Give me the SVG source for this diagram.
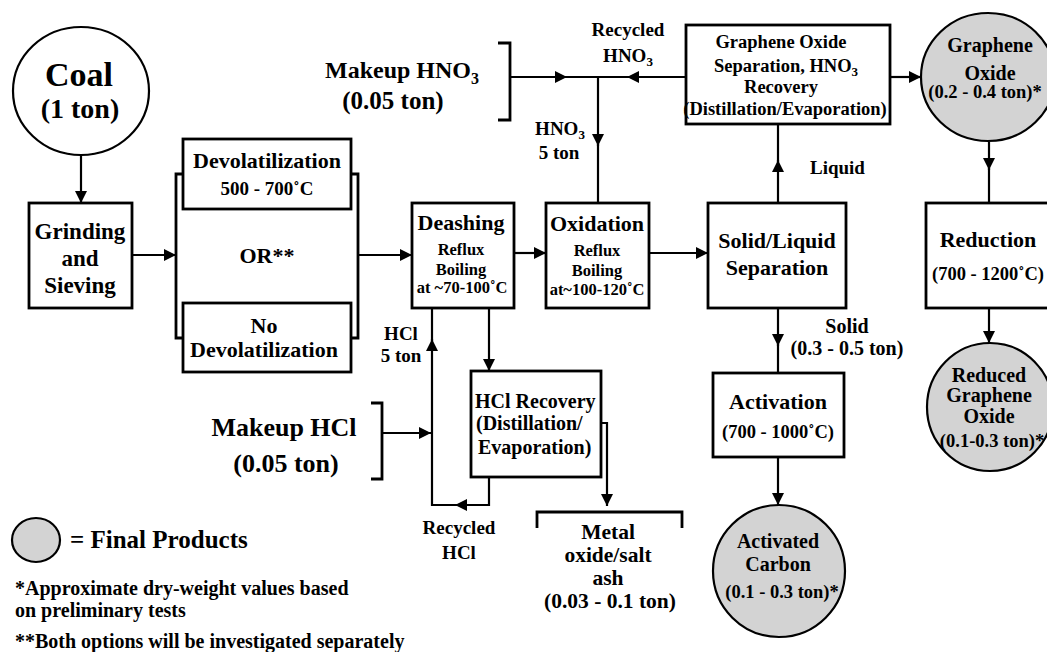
<svg xmlns="http://www.w3.org/2000/svg" width="1047" height="652" viewBox="0 0 1047 652" font-family="Liberation Serif, Times New Roman, DejaVu Serif, serif">
<defs>
<marker id="arr" markerUnits="userSpaceOnUse" markerWidth="12" markerHeight="12" viewBox="0 0 10 10" refX="10" refY="5" orient="auto">
<path d="M0,0 L10,5 L0,10 z" fill="#000"/>
</marker>
<style>
text{font-family:Liberation Serif, Times New Roman, DejaVu Serif, serif;font-weight:bold;fill:#000;text-anchor:middle}
.box{fill:#fff;stroke:#000;stroke-width:2.8}
.prod{fill:#d3d3d3;stroke:#000;stroke-width:2.2}
.start{fill:#fff;stroke:#000;stroke-width:2.2}
.ln{fill:none;stroke:#000;stroke-width:2.2}
.ar{fill:none;stroke:#000;stroke-width:2.2;marker-end:url(#arr)}
.brk{fill:none;stroke:#000;stroke-width:2.8}
.f34{font-size:34px}.f28{font-size:28px}.f26{font-size:26px}.f25{font-size:25px}.f24{font-size:24px}.f23{font-size:23px}.f22{font-size:22px}.f21{font-size:21.5px}.f20{font-size:20px}.f19{font-size:19px}.f18{font-size:18.5px}.f16{font-size:16.5px}
.l{text-anchor:start}
</style>
</defs>
<rect width="1047" height="652" fill="#fff"/>

<g id="connectors">
<line class="ar" x1="81" y1="155" x2="81" y2="203"/>
<line class="ar" x1="132" y1="255" x2="176" y2="255"/>
<line class="ar" x1="358" y1="255" x2="412" y2="255"/>
<line class="ar" x1="514" y1="253" x2="546" y2="253"/>
<line class="ar" x1="649" y1="253" x2="708" y2="253"/>
<line class="ar" x1="778" y1="203" x2="778" y2="160"/>
<line class="ln" x1="778" y1="162" x2="778" y2="124"/>
<line class="ar" x1="890" y1="77" x2="921" y2="77"/>
<line class="ar" x1="989" y1="142" x2="989" y2="170"/>
<line class="ln" x1="989" y1="168" x2="989" y2="203"/>
<line class="ar" x1="989" y1="308" x2="989" y2="343"/>
<line class="ar" x1="778" y1="308" x2="778" y2="346"/>
<line class="ln" x1="778" y1="344" x2="778" y2="373"/>
<line class="ar" x1="778" y1="457" x2="778" y2="505"/>
<line class="ar" x1="511" y1="77" x2="567" y2="77"/>
<line class="ln" x1="565" y1="77" x2="629" y2="77"/>
<line class="ar" x1="686" y1="77" x2="627" y2="77"/>
<line class="ar" x1="598" y1="77" x2="598" y2="146"/>
<line class="ln" x1="598" y1="144" x2="598" y2="203"/>
<line class="ar" x1="489" y1="308" x2="489" y2="371"/>
<path class="ar" d="M489,477 V505 H455"/>
<path class="ar" d="M457,505 H432 V339"/>
<line class="ln" x1="432" y1="341" x2="432" y2="308"/>
<line class="ar" x1="382" y1="433" x2="431" y2="433"/>
<path class="ar" d="M601,423 H607 V506"/>
</g>

<g id="coal">
<ellipse class="start" cx="81" cy="91" rx="68" ry="64"/>
<text class="f34" x="79" y="86">Coal</text>
<text class="f28" x="80" y="118">(1 ton)</text>
</g>

<g id="grinding">
<rect class="box" x="29" y="203" width="103" height="105"/>
<text class="f23" x="80" y="239">Grinding</text>
<text class="f23" x="80" y="266">and</text>
<text class="f23" x="80" y="293">Sieving</text>
</g>

<g id="devol-options">
<path class="brk" d="M183,174 H176 V338 H183"/>
<path class="brk" d="M351,174 H358 V338 H351"/>
<text class="f22" x="267" y="263">OR**</text>
</g>

<g id="devolatilization">
<rect class="box" x="183" y="139" width="168" height="70"/>
<text class="f22" x="267" y="168">Devolatilization</text>
<text class="f19" x="267" y="195">500 - 700˚C</text>
</g>

<g id="no-devolatilization">
<rect class="box" x="183" y="303" width="168" height="69"/>
<text class="f22" x="264" y="333">No</text>
<text class="f22" x="264" y="357">Devolatilization</text>
</g>

<g id="deashing">
<rect class="box" x="412" y="203" width="102" height="105"/>
<text class="f22" x="461" y="230">Deashing</text>
<text class="f16" x="461" y="255">Reflux</text>
<text class="f16" x="461" y="275">Boiling</text>
<text class="f16" x="462" y="293">at ~70-100˚C</text>
</g>

<g id="oxidation">
<rect class="box" x="546" y="203" width="103" height="105"/>
<text class="f22" x="597" y="231">Oxidation</text>
<text class="f16" x="597" y="256">Reflux</text>
<text class="f16" x="597" y="276">Boiling</text>
<text class="f16" x="597" y="295">at~100-120˚C</text>
</g>

<g id="solid-liquid">
<rect class="box" x="708" y="203" width="138" height="105"/>
<text class="f22" x="777" y="248">Solid/Liquid</text>
<text class="f22" x="777" y="275">Separation</text>
</g>

<g id="go-separation">
<rect class="box" x="686" y="25" width="204" height="99"/>
<text class="f18" x="781" y="48">Graphene Oxide</text>
<text class="f18" x="786" y="72">Separation, HNO<tspan font-size="13" dy="4">3</tspan></text>
<text class="f18" x="781" y="93">Recovery</text>
<text class="f18" x="785" y="115">(Distillation/Evaporation)</text>
</g>

<g id="graphene-oxide">
<ellipse class="prod" cx="988" cy="77" rx="67" ry="64"/>
<text class="f20" x="990" y="52">Graphene</text>
<text class="f20" x="990" y="80">Oxide</text>
<text class="f18" x="985" y="98">(0.2 - 0.4 ton)*</text>
</g>

<g id="reduction">
<rect class="box" x="926" y="203" width="126" height="105"/>
<text class="f22" x="988" y="247">Reduction</text>
<text class="f18" x="988" y="280">(700 - 1200˚C)</text>
</g>

<g id="reduced-graphene-oxide">
<ellipse class="prod" cx="990" cy="407" rx="63" ry="64"/>
<text class="f20" x="989" y="382">Reduced</text>
<text class="f20" x="989" y="402">Graphene</text>
<text class="f20" x="989" y="423">Oxide</text>
<text class="f18" x="992" y="447">(0.1-0.3 ton)*</text>
</g>

<g id="activation">
<rect class="box" x="713" y="373" width="131" height="84"/>
<text class="f22" x="778" y="409">Activation</text>
<text class="f18" x="778" y="438">(700 - 1000˚C)</text>
</g>

<g id="activated-carbon">
<ellipse class="prod" cx="779" cy="571" rx="66" ry="66"/>
<text class="f20" x="778" y="548">Activated</text>
<text class="f20" x="778" y="571">Carbon</text>
<text class="f18" x="782" y="598">(0.1 - 0.3 ton)*</text>
</g>

<g id="makeup-hno3">
<path class="brk" d="M498,43 H510 V120 H498"/>
<text class="f24" x="402" y="78">Makeup HNO<tspan font-size="16" dy="6">3</tspan></text>
<text class="f25" x="393" y="109">(0.05 ton)</text>
</g>

<g id="hcl-recovery">
<rect class="box" x="471" y="371" width="130" height="106"/>
<text class="f20 l" x="475" y="408">HCl Recovery</text>
<text class="f20 l" x="476" y="430">(Distillation/</text>
<text class="f20 l" x="478" y="454">Evaporation)</text>
</g>

<g id="makeup-hcl">
<path class="brk" d="M371,403 H382 V479 H371"/>
<text class="f26" x="284" y="436">Makeup HCl</text>
<text class="f26" x="286" y="472">(0.05 ton)</text>
</g>

<g id="metal-ash">
<path class="brk" d="M537,528 V512 H682 V528"/>
<text class="f21" x="608" y="539">Metal</text>
<text class="f21" x="608" y="562">oxide/salt</text>
<text class="f21" x="608" y="585">ash</text>
<text class="f21" x="610" y="608">(0.03 - 0.1 ton)</text>
</g>

<g id="labels">
<text class="f19" x="628" y="36">Recycled</text>
<text class="f19" x="628" y="62">HNO<tspan font-size="13" dy="4">3</tspan></text>
<text class="f19" x="560" y="135">HNO<tspan font-size="13" dy="4">3</tspan></text>
<text class="f19" x="559" y="159">5 ton</text>
<text class="f19" x="401" y="340">HCl</text>
<text class="f19" x="401" y="362">5 ton</text>
<text class="f19" x="459" y="534">Recycled</text>
<text class="f19" x="459" y="559">HCl</text>
<text class="f19 l" x="810" y="174">Liquid</text>
<text class="f20" x="847" y="333">Solid</text>
<text class="f20" x="847" y="355">(0.3 - 0.5 ton)</text>
</g>

<g id="legend">
<ellipse class="prod" cx="36" cy="540" rx="24" ry="22"/>
<text class="f25 l" x="70" y="548">= Final Products</text>
<text class="f20 l" x="15" y="595">*Approximate dry-weight values based</text>
<text class="f20 l" x="15" y="617">on preliminary tests</text>
<text class="f20 l" x="15" y="648">**Both options will be investigated separately</text>
</g>
</svg>
